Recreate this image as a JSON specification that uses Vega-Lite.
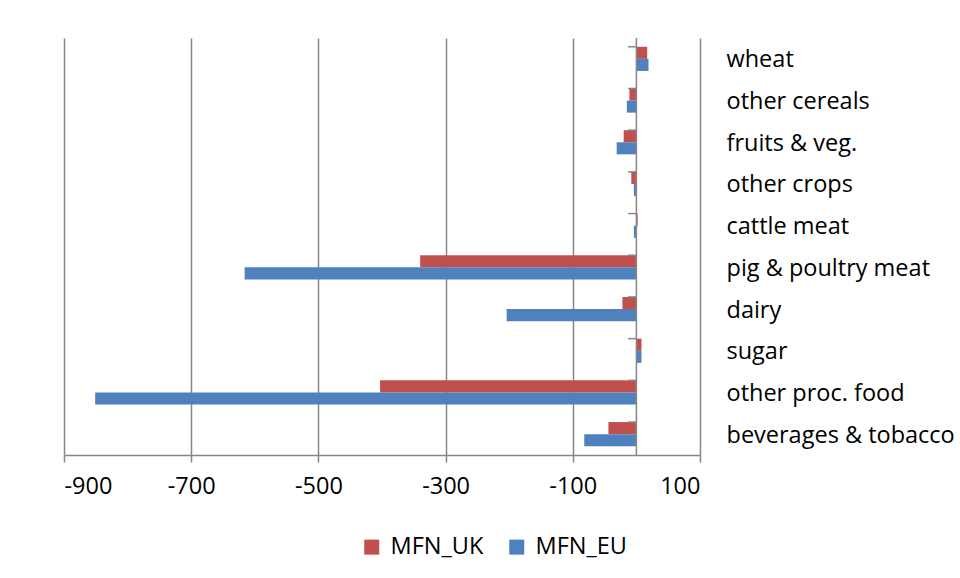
{
  "$schema": "https://vega.github.io/schema/vega-lite/v6.json",
  "width": 636,
  "height": 417,
  "autosize": {"type": "none"},
  "padding": {"left": 64, "top": 38, "right": 260, "bottom": 123},
  "background": "white",
  "config": {
    "view": {"stroke": null},
    "font": "Open Sans",
    "axis": {"labelFont": "Open Sans", "labelColor": "black"},
    "legend": {"labelFont": "Open Sans"}
  },
  "datasets": {
    "bars": [
      {"category": "wheat", "series": "MFN_UK", "value": 17},
      {"category": "wheat", "series": "MFN_EU", "value": 19},
      {"category": "other cereals", "series": "MFN_UK", "value": -11},
      {"category": "other cereals", "series": "MFN_EU", "value": -15},
      {"category": "fruits & veg.", "series": "MFN_UK", "value": -20},
      {"category": "fruits & veg.", "series": "MFN_EU", "value": -31},
      {"category": "other crops", "series": "MFN_UK", "value": -8},
      {"category": "other crops", "series": "MFN_EU", "value": -4},
      {"category": "cattle meat", "series": "MFN_UK", "value": 2},
      {"category": "cattle meat", "series": "MFN_EU", "value": -4},
      {"category": "pig & poultry meat", "series": "MFN_UK", "value": -340},
      {"category": "pig & poultry meat", "series": "MFN_EU", "value": -616},
      {"category": "dairy", "series": "MFN_UK", "value": -22},
      {"category": "dairy", "series": "MFN_EU", "value": -204},
      {"category": "sugar", "series": "MFN_UK", "value": 8},
      {"category": "sugar", "series": "MFN_EU", "value": 8},
      {"category": "other proc. food", "series": "MFN_UK", "value": -403},
      {"category": "other proc. food", "series": "MFN_EU", "value": -851},
      {"category": "beverages & tobacco", "series": "MFN_UK", "value": -44},
      {"category": "beverages & tobacco", "series": "MFN_EU", "value": -82}
    ],
    "cats": [
      {"category": "wheat"},
      {"category": "other cereals"},
      {"category": "fruits & veg."},
      {"category": "other crops"},
      {"category": "cattle meat"},
      {"category": "pig & poultry meat"},
      {"category": "dairy"},
      {"category": "sugar"},
      {"category": "other proc. food"},
      {"category": "beverages & tobacco"}
    ]
  },
  "layer": [
    {
      "data": {"name": "bars"},
      "mark": {"type": "bar"},
      "encoding": {
        "y": {
          "field": "category",
          "type": "nominal",
          "sort": null,
          "scale": {"paddingInner": 0.42, "paddingOuter": 0.21},
          "axis": {
            "orient": "right",
            "title": null,
            "domain": false,
            "ticks": false,
            "labelPadding": 26,
            "labelFontSize": 23.5,
            "labelAlign": "left",
            "labelLimit": 0,
            "labelOffset": 1.5
          }
        },
        "yOffset": {
          "field": "series",
          "type": "nominal",
          "sort": ["MFN_UK", "MFN_EU"],
          "scale": {"paddingInner": 0, "paddingOuter": 0}
        },
        "x": {
          "field": "value",
          "type": "quantitative",
          "scale": {"domain": [-900, 100], "nice": false, "zero": false},
          "axis": {
            "title": null,
            "values": [-900, -700, -500, -300, -100, 100],
            "labelExpr": "'' + datum.value",
            "grid": true,
            "gridColor": "#868686",
            "gridWidth": 1.5,
            "domainColor": "#868686",
            "domainWidth": 1.5,
            "tickColor": "#868686",
            "tickWidth": 1.5,
            "tickSize": 7,
            "labelFontSize": 23.5,
            "labelPadding": 12
          }
        },
        "color": {
          "field": "series",
          "type": "nominal",
          "scale": {"domain": ["MFN_UK", "MFN_EU"], "range": ["#C0504D", "#4F81BD"]},
          "legend": {
            "title": null,
            "orient": "none",
            "direction": "horizontal",
            "legendX": 296,
            "legendY": 497,
            "symbolType": "square",
            "symbolSize": 225,
            "symbolStrokeWidth": 0,
            "labelFontSize": 23.5,
            "labelColor": "black",
            "columnPadding": 21,
            "labelOffset": 7
          }
        }
      }
    },
    {
      "data": {"name": "cats"},
      "mark": {"type": "rule", "color": "#868686", "strokeWidth": 1.5},
      "encoding": {
        "y": {"field": "category", "type": "nominal", "sort": null, "bandPosition": 0},
        "x": {"datum": -13},
        "x2": {"datum": 0}
      }
    },
    {
      "data": {"values": [{"z": 0}]},
      "mark": {"type": "rule", "color": "#868686", "strokeWidth": 1.5},
      "encoding": {
        "x": {"field": "z", "type": "quantitative"}
      }
    }
  ]
}
